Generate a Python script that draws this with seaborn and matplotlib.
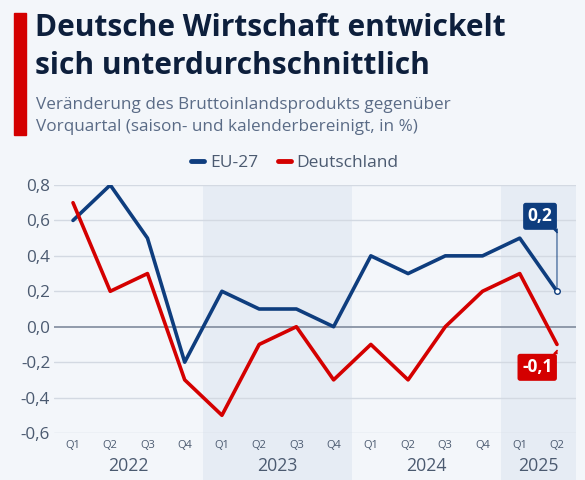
import pandas as pd
import seaborn as sns
import matplotlib.pyplot as plt
import matplotlib.transforms as mtransforms
from matplotlib.lines import Line2D
from matplotlib.patches import Rectangle

# ==========================================
# DATA
# ==========================================
QUARTERS = ["Q1", "Q2", "Q3", "Q4", "Q1", "Q2", "Q3", "Q4",
            "Q1", "Q2", "Q3", "Q4", "Q1", "Q2"]
YEARS = ["2022", "2023", "2024", "2025"]
YEAR_CENTERS = [1.5, 5.5, 9.5, 12.5]
EU27 = [0.6, 0.8, 0.5, -0.2, 0.2, 0.1, 0.1, 0.0, 0.4, 0.3, 0.4, 0.4, 0.5, 0.2]
DEUTSCHLAND = [0.7, 0.2, 0.3, -0.3, -0.5, -0.1, 0.0, -0.3, -0.1, -0.3, 0.0, 0.2, 0.3, -0.1]
Y_TICKS = [-0.6, -0.4, -0.2, 0.0, 0.2, 0.4, 0.6, 0.8]
Y_TICK_LABELS = ["-0,6", "-0,4", "-0,2", "0,0", "0,2", "0,4", "0,6", "0,8"]

TITLE = "Deutsche Wirtschaft entwickelt\nsich unterdurchschnittlich"
SUBTITLE = "Veränderung des Bruttoinlandsprodukts gegenüber\nVorquartal (saison- und kalenderbereinigt, in %)"

# colours
BG = "#f3f6fa"
BAND = "#e6ecf4"
NAVY = "#0e3d7e"
RED = "#d40000"
DARK = "#0d1f3c"
GREY_TXT = "#4b5a70"
SUB_TXT = "#5a6b86"
GRID = "#d3d9e2"
ZERO = "#8893a4"
# ==========================================

sns.set_theme(style="white")
plt.rcParams["font.family"] = ["Open Sans", "DejaVu Sans"]

idx = list(range(len(QUARTERS)))
df = pd.DataFrame({
    "idx": idx * 2,
    "value": EU27 + DEUTSCHLAND,
    "series": ["EU-27"] * len(idx) + ["Deutschland"] * len(idx),
})

fig = plt.figure(figsize=(5.85, 4.8), dpi=100, facecolor=BG)
ax = fig.add_axes([54.4 / 585, 1 - 433 / 480, (575.6 - 54.4) / 585, 248 / 480])
ax.set_facecolor(BG)

# header
fig.patches.append(Rectangle((14 / 585, 1 - 135 / 480), 12 / 585, 122 / 480,
                             transform=fig.transFigure, color=RED, zorder=5))
fig.text(35 / 585, 1 - 13 / 480, TITLE, fontsize=21.5, fontweight="bold",
         color=DARK, va="top", ha="left", linespacing=1.34)
fig.text(36 / 585, 1 - 97 / 480, SUBTITLE, fontsize=12.3, color=SUB_TXT,
         va="top", ha="left", linespacing=1.5)

# shaded year bands (2023 and 2025), extending below axis into labels
for x0, x1 in [(3.5, 7.5), (11.5, 13.5)]:
    ax.axvspan(x0, x1, ymin=-0.2, ymax=1.0, color=BAND, zorder=0,
               clip_on=False, lw=0)

ax.set_xlim(-0.5, 13.5)
ax.set_ylim(-0.6, 0.8)

for y in Y_TICKS:
    ax.axhline(y, color=ZERO if y == 0 else GRID, lw=1.3 if y == 0 else 1.0, zorder=1)

sns.lineplot(data=df, x="idx", y="value", hue="series",
             palette={"EU-27": NAVY, "Deutschland": RED},
             linewidth=2.6, ax=ax, legend=False, zorder=3)

# end point marker on EU line
ax.plot(13, EU27[-1], marker="o", ms=4, mfc="white", mec=NAVY, mew=1, zorder=4)

# axes styling
for s in ax.spines.values():
    s.set_visible(False)
ax.set_xticks(idx)
ax.set_xticklabels(QUARTERS, fontsize=8, color=GREY_TXT)
ax.set_yticks(Y_TICKS)
ax.set_yticklabels(Y_TICK_LABELS, fontsize=12.3, color=GREY_TXT)
ax.tick_params(axis="both", length=0)
ax.tick_params(axis="x", pad=5)
ax.tick_params(axis="y", pad=3)
ax.set_xlabel("")
ax.set_ylabel("")

trans = mtransforms.blended_transform_factory(ax.transData, ax.transAxes)
for yr, xc in zip(YEARS, YEAR_CENTERS):
    ax.text(xc, -0.095, yr, transform=trans, ha="center", va="top",
            fontsize=12.7, color=GREY_TXT)

# legend
handles = [Line2D([0], [0], color=NAVY, lw=3.5, solid_capstyle="round"),
           Line2D([0], [0], color=RED, lw=3.5, solid_capstyle="round")]
fig.legend(handles, ["EU-27", "Deutschland"], loc="center",
           bbox_to_anchor=(295 / 585, 1 - 163 / 480), ncol=2, frameon=False,
           handlelength=0.75, handletextpad=0.35, columnspacing=1.1,
           fontsize=12.5, labelcolor=GREY_TXT)

# value labels
box = dict(boxstyle="round,pad=0.26,rounding_size=0.15", ec="none")
# thin vertical connector from the blue label down to the last point
ax.annotate("", xy=(13, EU27[-1]), xytext=(0, 45), textcoords="offset points",
            arrowprops=dict(arrowstyle="-", color=NAVY, lw=0.7,
                            shrinkA=0, shrinkB=2),
            zorder=4)
ax.annotate("0,2", xy=(13, EU27[-1]), xytext=(-3.3, 47.5), textcoords="offset points",
            ha="right", va="bottom", fontsize=12.5, fontweight="bold", color="white",
            bbox=dict(box, fc=NAVY), zorder=5)
ax.annotate("-0,1", xy=(13, DEUTSCHLAND[-1]), xytext=(-3.3, -10), textcoords="offset points",
            ha="right", va="top", fontsize=12.5, fontweight="bold", color="white",
            bbox=dict(box, fc=RED), zorder=5)

# small pointer tips on the label boxes
tip_up = mtransforms.offset_copy(ax.transData, fig=fig, x=0, y=45, units="points")
ax.plot(13, EU27[-1], marker=[(0, 0), (-1, 0), (0, -1)], ms=5, color=NAVY,
        transform=tip_up, zorder=5, clip_on=False)
tip_dn = mtransforms.offset_copy(ax.transData, fig=fig, x=0, y=-6.5, units="points")
ax.plot(13, DEUTSCHLAND[-1], marker=[(0, 0), (-1, 0), (0, 1)], ms=5, color=RED,
        transform=tip_dn, zorder=5, clip_on=False)

plt.savefig("out.png", dpi=100, facecolor=BG)
